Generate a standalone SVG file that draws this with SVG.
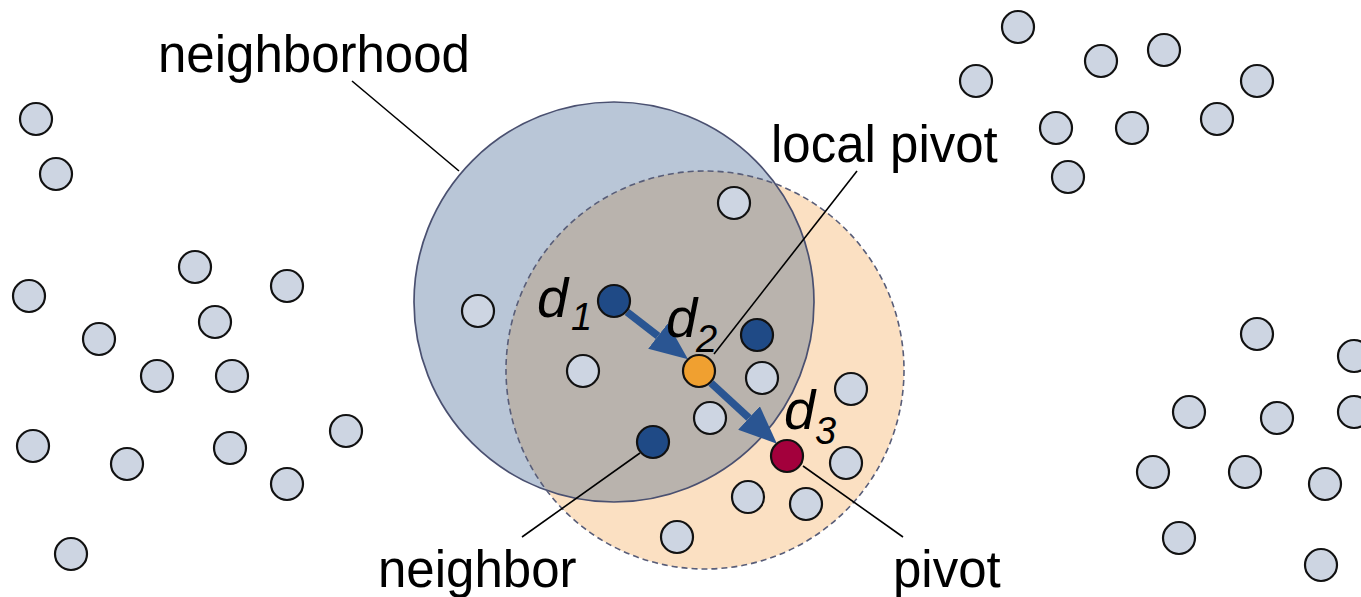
<svg xmlns="http://www.w3.org/2000/svg" width="1361" height="597" viewBox="0 0 1361 597">
<style>
.pt{fill:#cdd5e2;stroke:#111;stroke-width:2.2}
.nb{fill:#1f4a86;stroke:#111;stroke-width:2.2}
.lp{fill:#f0a030;stroke:#111;stroke-width:2.2}
.pv{fill:#a3003c;stroke:#111;stroke-width:2.2}
.lead{stroke:#000;stroke-width:1.6;fill:none}
.arr{stroke:#2a5592;stroke-width:7.5;fill:none}
.lbl{font-family:"Liberation Sans",Arial,Helvetica,sans-serif;font-size:51px;fill:#000}
.dl{font-family:"Liberation Sans",Arial,Helvetica,sans-serif;font-style:italic;font-size:56px;fill:#000}
.sub{font-size:38px}
</style>
<defs>
<clipPath id="clipN"><circle cx="614" cy="302" r="200"/></clipPath>
<marker id="ah" markerUnits="userSpaceOnUse" markerWidth="38" markerHeight="32" refX="0" refY="16" orient="auto">
<path d="M0,0 L38,16 L0,32 z" fill="#2a5592"/>
</marker>
</defs>
<rect width="1361" height="597" fill="#fff"/>

<g id="regions">
<circle cx="705" cy="370" r="199" fill="#fbe0c2"/>
<circle cx="614" cy="302" r="200" fill="#b9c6d7"/>
<circle cx="705" cy="370" r="199" fill="#b9b3ad" clip-path="url(#clipN)"/>
<circle id="neighborhood-circle" cx="614" cy="302" r="200" fill="none" stroke="#4a5070" stroke-width="1.7"/>
<circle id="pivot-range" cx="705" cy="370" r="199" fill="none" stroke="#585d78" stroke-width="1.6" stroke-dasharray="6 4"/>
</g>

<g id="connectors">
<line class="lead" x1="352" y1="81" x2="459" y2="171"/>
<line class="lead" x1="857" y1="171" x2="714" y2="354"/>
<line class="lead" x1="640" y1="453" x2="522" y2="537"/>
<line class="lead" x1="803" y1="466" x2="903" y2="537"/>
<line class="arr" x1="627" y1="312" x2="658" y2="336" marker-end="url(#ah)"/>
<line class="arr" x1="711" y1="383" x2="749" y2="418" marker-end="url(#ah)"/>
</g>

<g id="left-cluster">
<g id="l1"><circle class="pt" cx="36" cy="119" r="16"/></g>
<g id="l2"><circle class="pt" cx="56" cy="174" r="16"/></g>
<g id="l3"><circle class="pt" cx="195" cy="267" r="16"/></g>
<g id="l4"><circle class="pt" cx="287" cy="286" r="16"/></g>
<g id="l5"><circle class="pt" cx="29" cy="296" r="16"/></g>
<g id="l6"><circle class="pt" cx="215" cy="322" r="16"/></g>
<g id="l7"><circle class="pt" cx="99" cy="339" r="16"/></g>
<g id="l8"><circle class="pt" cx="157" cy="376" r="16"/></g>
<g id="l9"><circle class="pt" cx="232" cy="376" r="16"/></g>
<g id="l10"><circle class="pt" cx="346" cy="431" r="16"/></g>
<g id="l11"><circle class="pt" cx="33" cy="446" r="16"/></g>
<g id="l12"><circle class="pt" cx="230" cy="448" r="16"/></g>
<g id="l13"><circle class="pt" cx="127" cy="464" r="16"/></g>
<g id="l14"><circle class="pt" cx="287" cy="484" r="16"/></g>
<g id="l15"><circle class="pt" cx="71" cy="554" r="16"/></g>
</g>

<g id="top-right-cluster">
<g id="t1"><circle class="pt" cx="1018" cy="27" r="16"/></g>
<g id="t2"><circle class="pt" cx="976" cy="81" r="16"/></g>
<g id="t3"><circle class="pt" cx="1101" cy="61" r="16"/></g>
<g id="t4"><circle class="pt" cx="1164" cy="50" r="16"/></g>
<g id="t5"><circle class="pt" cx="1257" cy="81" r="16"/></g>
<g id="t6"><circle class="pt" cx="1056" cy="128" r="16"/></g>
<g id="t7"><circle class="pt" cx="1132" cy="128" r="16"/></g>
<g id="t8"><circle class="pt" cx="1217" cy="119" r="16"/></g>
<g id="t9"><circle class="pt" cx="1068" cy="177" r="16"/></g>
</g>

<g id="bottom-right-cluster">
<g id="b1"><circle class="pt" cx="1257" cy="334" r="16"/></g>
<g id="b2"><circle class="pt" cx="1354" cy="356" r="16"/></g>
<g id="b3"><circle class="pt" cx="1189" cy="412" r="16"/></g>
<g id="b4"><circle class="pt" cx="1277" cy="418" r="16"/></g>
<g id="b5"><circle class="pt" cx="1354" cy="412" r="16"/></g>
<g id="b6"><circle class="pt" cx="1153" cy="472" r="16"/></g>
<g id="b7"><circle class="pt" cx="1245" cy="472" r="16"/></g>
<g id="b8"><circle class="pt" cx="1325" cy="484" r="16"/></g>
<g id="b9"><circle class="pt" cx="1179" cy="538" r="16"/></g>
<g id="b10"><circle class="pt" cx="1321" cy="565" r="16"/></g>
</g>

<g id="center-cluster">
<g id="c1"><circle class="pt" cx="734" cy="203" r="16"/></g>
<g id="c2"><circle class="pt" cx="478" cy="311" r="16"/></g>
<g id="c3"><circle class="pt" cx="583" cy="371" r="16"/></g>
<g id="c4"><circle class="pt" cx="762" cy="378" r="16"/></g>
<g id="c5"><circle class="pt" cx="851" cy="389" r="16"/></g>
<g id="c6"><circle class="pt" cx="710" cy="418" r="16"/></g>
<g id="c7"><circle class="pt" cx="846" cy="463" r="16"/></g>
<g id="c8"><circle class="pt" cx="748" cy="497" r="16"/></g>
<g id="c9"><circle class="pt" cx="806" cy="504" r="16"/></g>
<g id="c10"><circle class="pt" cx="677" cy="537" r="16"/></g>
<g id="d1-node"><circle class="nb" cx="614" cy="301" r="16"/></g>
<g id="n2"><circle class="nb" cx="757" cy="335" r="16"/></g>
<g id="neighbor-node"><circle class="nb" cx="653" cy="442" r="16"/></g>
<g id="local-pivot-node"><circle class="lp" cx="699" cy="371" r="16"/></g>
<g id="pivot-node"><circle class="pv" cx="787" cy="456" r="16"/></g>
</g>

<g id="labels">
<text class="lbl" x="158" y="72">neighborhood</text>
<text class="lbl" x="771" y="162">local pivot</text>
<text class="lbl" x="378" y="587">neighbor</text>
<text class="lbl" x="893" y="587">pivot</text>
<text class="dl" x="537" y="317">d</text><text class="dl sub" x="571" y="330">1</text>
<text class="dl" x="666" y="337">d</text><text class="dl sub" x="696" y="352">2</text>
<text class="dl" x="784" y="429">d</text><text class="dl sub" x="815" y="444">3</text>
</g>
</svg>
